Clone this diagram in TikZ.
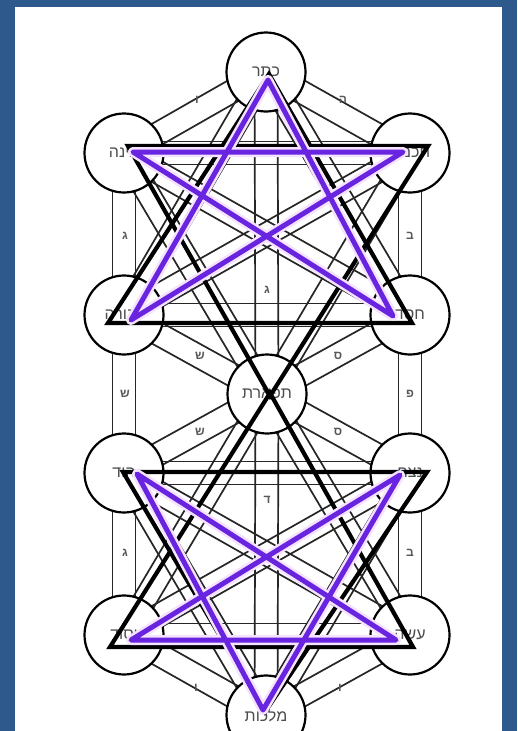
\documentclass[tikz,border=0pt]{standalone}
\usepackage{fontspec}
\newfontfamily\hebf[Script=Hebrew]{Liberation Sans}
\TeXXeTstate=1
\usetikzlibrary{calc}
\pgfdeclarelayer{back}
\pgfdeclarelayer{chan}
\pgfsetlayers{back,chan,main}
\definecolor{bluebg}{RGB}{46,89,140}
\definecolor{purp}{RGB}{104,36,222}
\definecolor{halo}{RGB}{244,226,255}
\tikzset{
  sef/.style={circle, draw=black, line width=2.2pt, fill=white, minimum size=79pt, inner sep=0pt,
    font=\hebf\fontsize{16}{16}\selectfont, text=black!70},
  chanline/.style={draw=black!85, line width=1.7pt},
  ltr/.style={font=\hebf\bfseries\fontsize{12}{12}\selectfont, text=black!65, inner sep=0pt},
  blackstar/.style={draw=black, line width=4.2pt, line join=miter},
  purpstar/.style={draw=purp, line width=5pt, line join=round, line cap=round},
  halostar/.style={draw=halo, line width=10pt, line join=round, line cap=round},
}
\newcommand\chan[2]{%
  \draw[chanline] ($(#1.center)!11.5pt!90:(#2.center)$) -- ($(#2.center)!11.5pt!-90:(#1.center)$);
  \draw[chanline] ($(#1.center)!11.5pt!-90:(#2.center)$) -- ($(#2.center)!11.5pt!90:(#1.center)$);}
\begin{document}
\begin{tikzpicture}[x=1pt,y=-1pt]
\useasboundingbox (0,0) rectangle (517,731);
\begin{pgfonlayer}{back}
  \fill[bluebg] (0,0) rectangle (517,731);
  \fill[white] (15,7) rectangle (502,731);
\end{pgfonlayer}

% sefirot
\node[sef] (K)  at (266,72)  {\beginR כתר\endR};
\node[sef] (L2) at (124,153) {\beginR בינה\endR};
\node[sef] (R2) at (410,153) {\beginR חכמה\endR};
\node[sef] (L3) at (124,315) {\beginR גבורה\endR};
\node[sef] (R3) at (410,315) {\beginR חסד\endR};
\node[sef] (T)  at (267,394) {\beginR תפארת\endR};
\node[sef] (L4) at (124,473) {\beginR הוד\endR};
\node[sef] (R4) at (410,473) {\beginR נצח\endR};
\node[sef] (L5) at (124,635) {\beginR יסוד\endR};
\node[sef] (R5) at (410,635) {\beginR עשה\endR};
\node[sef] (M)  at (266,715) {\beginR מלכות\endR};

% channels
\begin{pgfonlayer}{chan}
  \chan{K}{L2} \chan{K}{R2} \chan{L2}{L3} \chan{R2}{R3}
  \chan{L2}{R2} \chan{L3}{R3} \chan{K}{T}
  \chan{K}{L3} \chan{K}{R3} \chan{L2}{T} \chan{R2}{T}
  \chan{L2}{R3} \chan{R2}{L3}
  \chan{L3}{T} \chan{R3}{T} \chan{T}{L4} \chan{T}{R4}
  \chan{L3}{L4} \chan{R3}{R4}
  \chan{L4}{R4} \chan{L5}{R5} \chan{L4}{L5} \chan{R4}{R5}
  \chan{L5}{M} \chan{R5}{M} \chan{T}{M}
  \chan{T}{L5} \chan{T}{R5} \chan{M}{L4} \chan{M}{R4}
  \chan{L4}{R5} \chan{R4}{L5}
\end{pgfonlayer}

% channel letters
\node[ltr] (a1)  at (197,100) {ו};
\node[ltr] (a2)  at (343,100) {ה};
\node[ltr] (a3)  at (125,236) {ג};
\node[ltr] (a4)  at (410,236) {ב};
\node[ltr] (a5)  at (267,290) {ג};
\node[ltr] (a6)  at (200,356) {ש};
\node[ltr] (a7)  at (338,356) {ס};
\node[ltr] (a8)  at (125,394) {ש};
\node[ltr] (a9)  at (410,394) {פ};
\node[ltr] (a10) at (200,432) {ש};
\node[ltr] (a11) at (338,432) {ס};
\node[ltr] (a12) at (267,500) {ד};
\node[ltr] (a13) at (125,553) {ג};
\node[ltr] (a14) at (410,553) {ב};
\node[ltr] (a15) at (196,688) {ו};
\node[ltr] (a16) at (340,688) {ו};

% black hexagrams
\draw[blackstar] (269,74) -- (108,323) -- (412,323) -- cycle;
\draw[blackstar] (128,146) -- (428,146) -- (270,396) -- cycle;
\draw[blackstar] (270,393) -- (110,647) -- (413,647) -- cycle;
\draw[blackstar] (123,472) -- (427,472) -- (265,712) -- cycle;

% purple pentagrams
\draw[halostar] (268,80) -- (131,320) -- (403,152) -- (133,152) -- (393,316) -- cycle;
\draw[purpstar] (268,80) -- (131,320) -- (403,152) -- (133,152) -- (393,316) -- cycle;
\draw[halostar] (263,710) -- (137,474) -- (396,640) -- (131,640) -- (400,475) -- cycle;
\draw[purpstar] (263,710) -- (137,474) -- (396,640) -- (131,640) -- (400,475) -- cycle;
\end{tikzpicture}
\end{document}
